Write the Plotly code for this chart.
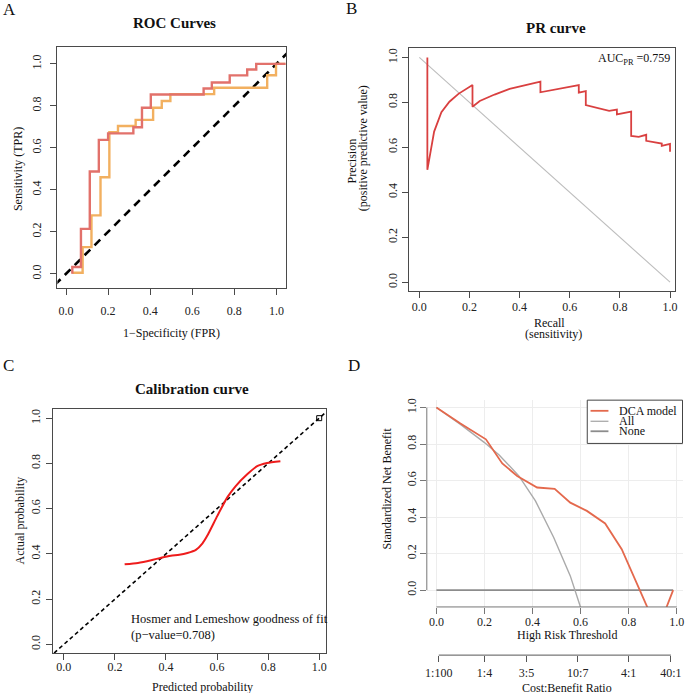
import plotly.graph_objects as go

W, H = 685, 693
FONT = "Liberation Serif, Times New Roman, serif"

# ---------------- Data ----------------
# Panel A: ROC curves (step curves, vertical-then-horizontal)
roc_red_fpr = [0.03, 0.071, 0.113, 0.156, 0.20, 0.32, 0.361, 0.403, 0.654, 0.693, 0.778, 0.861, 0.904, 1.043]
roc_red_tpr = [0.0, 0.032, 0.214, 0.487, 0.638, 0.669, 0.698, 0.791, 0.854, 0.883, 0.911, 0.945, 0.973, 1.0]
roc_org_fpr = [0.03, 0.079, 0.121, 0.164, 0.206, 0.247, 0.331, 0.414, 0.455, 0.496, 0.704, 0.956, 0.998, 1.043]
roc_org_tpr = [0.005, 0.005, 0.127, 0.278, 0.46, 0.674, 0.704, 0.733, 0.791, 0.823, 0.856, 0.886, 0.946, 1.0]
ref_diag = [-0.1, 1.2]

# Panel B: PR curve
pr_recall = [0.032, 0.032, 0.059, 0.088, 0.12, 0.156, 0.212, 0.212, 0.241, 0.30, 0.36, 0.42, 0.483, 0.483,
             0.636, 0.636, 0.664, 0.664, 0.757, 0.788, 0.788, 0.845, 0.845, 0.875, 0.905, 0.905,
             0.967, 0.967, 1.0, 1.0]
pr_precision = [1.0, 0.50, 0.67, 0.756, 0.803, 0.838, 0.877, 0.781, 0.806, 0.835, 0.86, 0.877, 0.892, 0.845,
                0.877, 0.843, 0.85, 0.788, 0.762, 0.768, 0.747, 0.759, 0.651, 0.647, 0.656, 0.629,
                0.617, 0.607, 0.615, 0.58]
pr_baseline_x = [0.0, 1.0]
pr_baseline_y = [1.0, 0.0]
auc_pr = 0.759

# Panel C: calibration curve
cal_pred = [0.238, 0.29, 0.342, 0.381, 0.419, 0.452, 0.484, 0.517, 0.543, 0.562, 0.601, 0.64, 0.673,
            0.718, 0.757, 0.796, 0.848]
cal_actual = [0.354, 0.36, 0.372, 0.383, 0.392, 0.396, 0.404, 0.418, 0.447, 0.481, 0.568, 0.65, 0.70,
              0.752, 0.788, 0.802, 0.81]
hl_pvalue = 0.708

# Panel D: decision curve
dca_thr = [0.0, 0.1, 0.206, 0.274, 0.336, 0.419, 0.492, 0.557, 0.626, 0.702, 0.771, 0.84, 0.92, 0.985]
dca_model = [1.0, 0.912, 0.826, 0.694, 0.625, 0.562, 0.555, 0.479, 0.434, 0.365, 0.224, 0.016, -0.22, 0.0]
all_thr = [0.0, 0.1, 0.2, 0.261, 0.343, 0.412, 0.488, 0.557, 0.599, 0.62]
all_nb = [1.0, 0.908, 0.808, 0.74, 0.626, 0.489, 0.288, 0.078, -0.091, -0.2]
none_thr = [0.0, 0.985]
none_nb = [0.0, 0.0]
cb_labels = ["1:100", "1:4", "3:5", "10:7", "4:1", "40:1"]
cb_cost = [1, 1, 3, 10, 4, 40]
cb_benefit = [100, 4, 5, 7, 1, 1]

ticks01 = [0, 0.2, 0.4, 0.6, 0.8, 1.0]
ticks01_text = ["0.0", "0.2", "0.4", "0.6", "0.8", "1.0"]

# ---------------- Helpers ----------------
def fx(p):
    return p / W

def fy(p):
    return 1 - p / H

fig = go.Figure()

# Panel A traces
fig.add_trace(go.Scatter(x=ref_diag, y=ref_diag, mode="lines", xaxis="x", yaxis="y",
                         line=dict(color="black", width=2.6, dash="8px,6px")))
fig.add_trace(go.Scatter(x=roc_org_fpr, y=roc_org_tpr, mode="lines", xaxis="x", yaxis="y",
                         line=dict(color="#F2B060", width=2.4, shape="vh")))
fig.add_trace(go.Scatter(x=roc_red_fpr, y=roc_red_tpr, mode="lines", xaxis="x", yaxis="y",
                         line=dict(color="#E2716B", width=2.4, shape="vh")))

# Panel B traces
fig.add_trace(go.Scatter(x=pr_baseline_x, y=pr_baseline_y, mode="lines", xaxis="x2", yaxis="y2",
                         line=dict(color="#BDBDBD", width=1.1)))
fig.add_trace(go.Scatter(x=pr_recall, y=pr_precision, mode="lines", xaxis="x2", yaxis="y2",
                         line=dict(color="#D94040", width=1.8)))

# Panel C traces
fig.add_trace(go.Scatter(x=ref_diag, y=ref_diag, mode="lines", xaxis="x3", yaxis="y3",
                         line=dict(color="black", width=1.6, dash="4px,3px")))
fig.add_trace(go.Scatter(x=[1.0], y=[1.0], mode="markers", xaxis="x3", yaxis="y3",
                         marker=dict(symbol="square-open", size=5, color="black", line=dict(width=1))))
fig.add_trace(go.Scatter(x=cal_pred, y=cal_actual, mode="lines", xaxis="x3", yaxis="y3",
                         line=dict(color="#EE1C1C", width=2, shape="spline", smoothing=0.6)))

# Panel D traces
fig.add_trace(go.Scatter(x=none_thr, y=none_nb, mode="lines", xaxis="x4", yaxis="y4",
                         line=dict(color="#8C8C8C", width=1.6)))
fig.add_trace(go.Scatter(x=all_thr, y=all_nb, mode="lines", xaxis="x4", yaxis="y4",
                         line=dict(color="#AAAAAA", width=1.4)))
fig.add_trace(go.Scatter(x=dca_thr, y=dca_model, mode="lines", xaxis="x4", yaxis="y4",
                         line=dict(color="#E4694D", width=1.8)))
# carrier for the cost:benefit axis
cb_pos = [c / (c + b) for c, b in zip(cb_cost, cb_benefit)]
fig.add_trace(go.Scatter(x=cb_pos, y=[0.5] * len(cb_pos), mode="markers", xaxis="x5", yaxis="y4",
                         marker=dict(opacity=0), hoverinfo="skip"))

# ---------------- Axes ----------------
tickfont = dict(family=FONT, size=12, color="#222")

def box_axis(domain, rng, anchor, standoff, is_y=False):
    d = dict(domain=domain, range=rng, anchor=anchor, showline=True, linecolor="#4a4a4a", linewidth=1,
             mirror=True, ticks="outside", ticklen=6, tickwidth=1, tickcolor="#4a4a4a", showgrid=False,
             zeroline=False, tickvals=ticks01, ticktext=ticks01_text, tickfont=tickfont,
             ticklabelstandoff=standoff)
    if is_y:
        d.update(tickangle=-90)
    return d

layout_axes = {}
# A
layout_axes["xaxis"] = box_axis([fx(55.7), fx(286)], [-0.041, 1.047], "y", 5)
layout_axes["yaxis"] = box_axis([fy(287.3), fy(45)], [-0.07, 1.081], "x", 5, True)
# B
layout_axes["xaxis2"] = box_axis([fx(409.2), fx(677)], [-0.042, 1.02], "y2", -2)
layout_axes["yaxis2"] = box_axis([fy(290), fy(45.7)], [-0.04, 1.044], "x2", 0, True)
# C
layout_axes["xaxis3"] = box_axis([fx(51.7), fx(326)], [-0.041, 1.027], "y3", -4)
layout_axes["yaxis3"] = box_axis([fy(653.3), fy(408.3)], [-0.04, 1.04], "x3", 2, True)
# D
d_xrange = [-0.04, 1.026]
layout_axes["xaxis4"] = dict(domain=[fx(427.3), 1.0], range=d_xrange, anchor="y4", showline=False,
                             ticks="outside", ticklen=6, tickwidth=1, tickcolor="#777",
                             showgrid=True, gridcolor="#EDEDED", gridwidth=1, zeroline=False,
                             tickvals=ticks01, ticktext=ticks01_text, tickfont=tickfont,
                             ticklabelstandoff=-2)
layout_axes["yaxis4"] = dict(domain=[fy(606.7), fy(399)], range=[-0.092, 1.042], anchor="x4",
                             showline=False, ticks="outside", ticklen=6, tickwidth=1, tickcolor="#777",
                             showgrid=True, gridcolor="#EDEDED", gridwidth=1, zeroline=False,
                             tickvals=ticks01, ticktext=ticks01_text, tickfont=tickfont,
                             tickangle=-90, ticklabelstandoff=-1)
layout_axes["xaxis5"] = dict(overlaying="x4", anchor="free", position=fy(655), range=d_xrange,
                             side="bottom", showline=False, ticks="outside", ticklen=6, tickwidth=1,
                             tickcolor="#555", showgrid=False, zeroline=False,
                             tickvals=cb_pos, ticktext=cb_labels, tickfont=tickfont,
                             ticklabelstandoff=0)

# ---------------- Shapes ----------------
shapes = [
    # D axis lines (R style: from first to last tick)
    dict(type="line", xref="x4 domain", yref="y4", x0=0, x1=0, y0=0, y1=1, line=dict(color="#777", width=1)),
    dict(type="line", xref="x4", yref="y4 domain", x0=0, x1=1, y0=0, y1=0, line=dict(color="#777", width=1)),
    dict(type="line", xref="x5", yref="paper", x0=cb_pos[0], x1=cb_pos[-1], y0=fy(655), y1=fy(655),
         line=dict(color="#555", width=1)),
    # D legend box
    dict(type="rect", xref="paper", yref="paper", x0=fx(588.7), x1=fx(684.5), y0=fy(442.7), y1=fy(399.3),
         line=dict(color="#444", width=1), fillcolor="white"),
]
legend_items = [("DCA model", "#E4694D", 1.8, 410), ("All", "#AAAAAA", 1.3, 420.5), ("None", "#8C8C8C", 1.8, 430.5)]
for name, col, wdt, yy in legend_items:
    shapes.append(dict(type="line", xref="paper", yref="paper", x0=fx(592), x1=fx(610), y0=fy(yy), y1=fy(yy),
                       line=dict(color=col, width=wdt)))

# ---------------- Annotations ----------------
ann = []

def text(x, y, s, size=12, bold=False, angle=0, xanchor="center", yanchor="middle"):
    if bold:
        s = "<b>" + s + "</b>"
    ann.append(dict(x=fx(x), y=fy(y), xref="paper", yref="paper", text=s, showarrow=False,
                    font=dict(family=FONT, size=size, color="#111"), textangle=angle,
                    xanchor=xanchor, yanchor=yanchor))

# panel letters
text(7.5, 8, "A", size=17)
text(351.5, 7, "B", size=17)
text(6.7, 365, "C", size=17)
text(354.5, 365, "D", size=17)

# A
text(174, 21, "ROC Curves", size=15, bold=True)
text(170.5, 331.7, "1−Specificity (FPR)")
text(15.7, 168, "Sensitivity (TPR)", angle=-90)
# B
text(557, 26, "PR curve", size=15, bold=True)
text(551, 321.5, "Recall")
text(555, 333, "(sensitivity)")
text(352, 159, "Precision", angle=-90)
text(362.7, 147, "(positive predictive value)", angle=-90)
text(673.5, 57.3, "AUC<sub>PR</sub> =%.3f" % auc_pr, xanchor="right")
# C
text(190.7, 388, "Calibration curve", size=15, bold=True)
text(201.7, 686.5, "Predicted probability")
text(19, 520, "Actual probability", angle=-90)
text(127.5, 618.3, "Hosmer and Lemeshow goodness of fit", size=12.5, xanchor="left")
text(127.5, 635, "(p−value=%.3f)" % hl_pvalue, size=12.5, xanchor="left")
# D
text(387.7, 487.5, "Standardized Net Benefit", angle=-90)
text(568.7, 635, "High Risk Threshold")
text(568.7, 687.5, "Cost:Benefit Ratio")
for name, col, wdt, yy in legend_items:
    text(618.7, yy, name, xanchor="left")

fig.update_layout(width=W, height=H, margin=dict(l=0, r=0, t=0, b=0), showlegend=False,
                  paper_bgcolor="white", plot_bgcolor="white",
                  font=dict(family=FONT, size=12, color="#222"),
                  shapes=shapes, annotations=ann, **layout_axes)

fig.write_html("out.html", config={"displayModeBar": False},
               post_script="document.body.style.margin='0px';document.body.style.padding='0px';"
                           "document.documentElement.style.overflow='hidden';")
